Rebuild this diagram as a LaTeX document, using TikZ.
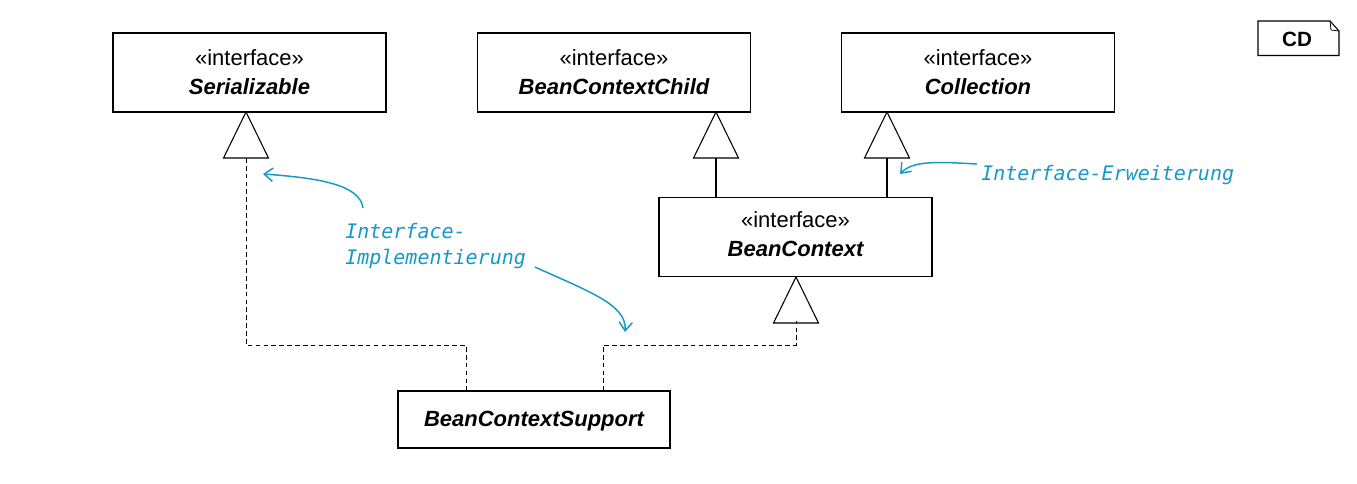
\documentclass[tikz,border=0pt]{standalone}
\usepackage{fontspec}
\setmainfont{Liberation Sans}
\newfontfamily\notefont{DejaVu Sans Mono}
\usetikzlibrary{arrows.meta}
\definecolor{notecol}{RGB}{22,152,200}
\begin{document}
\begin{tikzpicture}[x=0.75pt,y=-0.75pt,
  umlbox/.style={draw, line width=0.8pt, inner sep=0pt, minimum width=204.75pt, minimum height=59.25pt},
  stereo/.style={anchor=base, inner sep=0pt, font=\fontsize{16.5pt}{18pt}\selectfont},
  iname/.style={anchor=base, inner sep=0pt, font=\fontsize{16.5pt}{19pt}\selectfont\bfseries\itshape},
  gen/.style={line width=0.8pt},
  dep/.style={line width=0.75pt, dash pattern=on 3.5pt off 2.4pt},
  note/.style={anchor=base west, inner sep=0pt, text=notecol, font=\fontsize{15pt}{18pt}\selectfont\notefont\itshape},
  noteline/.style={draw=notecol, line width=1.1pt, -{Straight Barb[length=6.5pt,width=10pt]}},
  pics/gentri/.style={code={\draw[gen, fill=white] (0,0) -- (-22.5,46) -- (22.5,46) -- cycle;}}
]
\useasboundingbox (0,0) rectangle (1357,483);

% interfaces
\node[umlbox] (ser) at (249.5,72.5) {};
\node[stereo] (serS) at (249.5,65) {«interface»};
\node[iname] (serN) at (249.5,94) {Serializable};

\node[umlbox] (bcc) at (614,72.5) {};
\node[stereo] (bccS) at (614,65) {«interface»};
\node[iname] (bccN) at (614,94) {BeanContextChild};

\node[umlbox] (col) at (978,72.5) {};
\node[stereo] (colS) at (978,65) {«interface»};
\node[iname] (colN) at (978,94) {Collection};

\node[umlbox] (bc) at (795.5,237) {};
\node[stereo] (bcS) at (795.5,227) {«interface»};
\node[iname] (bcN) at (795.5,256) {BeanContext};

% implementing class
\node[umlbox, minimum width=204pt, minimum height=42.75pt] (bcs) at (534,419.5) {};
\node[iname] (bcsN) at (534,426) {BeanContextSupport};

% generalization triangles
\pic at (246,112) {gentri};
\pic at (716,112) {gentri};
\pic at (887,112) {gentri};
\pic at (796,277) {gentri};
\coordinate (serB) at (246,158);
\coordinate (bccB) at (716,158);
\coordinate (colB) at (887,158);
\coordinate (bcB) at (796,321);

% interface extension
\draw[gen] (bccB) -- (bccB |- bc.north);
\draw[gen] (colB) -- (colB |- bc.north);

% interface implementation
\coordinate (bcsL) at (466,391);
\coordinate (bcsR) at (603,391);
\draw[dep] (serB) -- ++(0,187) -| (bcsL);
\draw[dep] (bcsR) -- ++(0,-46) -| (bcB);

% diagram frame tag
\draw[line width=0.8pt] (1258,21) -- (1330,21) -- (1339,31) -- (1339,55.5) -- (1258,55.5) -- cycle;
\draw[line width=0.6pt] (1330,21) -- (1331,30) -- (1339,31);
\node[anchor=base, inner sep=0pt, font=\fontsize{15.5pt}{18pt}\selectfont\bfseries] (cd) at (1297,46.5) {CD};

% annotations
\node[note] (n1a) at (345,238) {Interface-};
\node[note] (n1b) at (345,264) {Implementierung};
\node[note] (n2) at (981,180) {Interface-Erweiterung};

\coordinate (a1s) at (363,208);
\coordinate (a1e) at (263,174);
\coordinate (a2s) at (535,267);
\coordinate (a2e) at (625,332);
\coordinate (a3s) at (977,164);
\coordinate (a3e) at (900,174);
\draw[noteline] (a1s) .. controls (360,185) and (320,178) .. (a1e);
\draw[noteline] (a2s) .. controls (590,292) and (627,305) .. (a2e);
\draw[noteline] (a3s) .. controls (940,162) and (913,160) .. (a3e);
\end{tikzpicture}
\end{document}
